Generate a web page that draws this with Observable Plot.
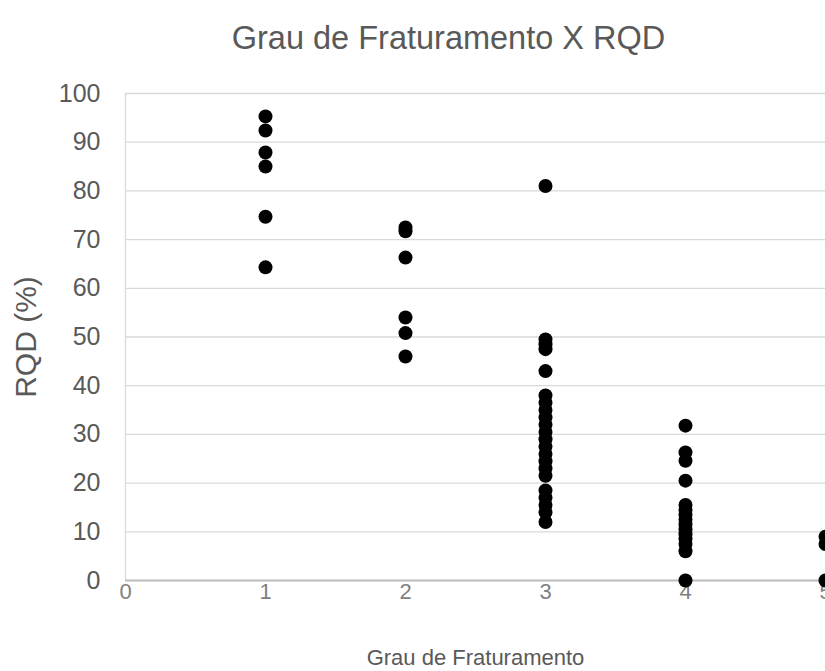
<!DOCTYPE html>
<html><head><meta charset="utf-8">
<script src="https://cdn.jsdelivr.net/npm/d3@7"></script>
<script src="https://cdn.jsdelivr.net/npm/@observablehq/plot@0.6"></script>
<style>html,body{margin:0;padding:0;background:#fff;overflow:hidden}#chart{width:825px;height:671px}</style>
</head><body><div id="chart"></div>
<script>
const title = "Grau de Fraturamento X RQD";
const xLabel = "Grau de Fraturamento";
const yLabel = "RQD (%)";
const xTicks = [0, 1, 2, 3, 4, 5];
const yTicks = [0, 10, 20, 30, 40, 50, 60, 70, 80, 90, 100];
const grau = [1, 2, 3, 4, 5];
const rqdGrau1 = [95.3, 92.4, 87.9, 85, 74.7, 64.3];
const rqdGrau2 = [72.5, 71.7, 66.3, 54, 50.8, 46];
const rqdGrau3 = [81, 49.5, 48.5, 47.5, 43, 38, 36.5, 35, 33.5, 32, 30.5, 29, 27.5, 26, 24.5, 23, 21.5, 18.5, 17, 15.5, 14, 12];
const rqdGrau4 = [31.8, 26.3, 24.6, 20.5, 15.5, 14.5, 13.5, 12.5, 11.5, 10.5, 9.5, 8.5, 7.5, 6, 0];
const rqdGrau5 = [9, 7.5, 0];
const rqdSeries = [rqdGrau1, rqdGrau2, rqdGrau3, rqdGrau4, rqdGrau5];
const data = grau.flatMap((g, i) => rqdSeries[i].map(v => ({grau: g, rqd: v})));

const chart = Plot.plot({
  width: 825, height: 671,
  marginTop: 93, marginBottom: 91, marginLeft: 125, marginRight: 0,
  style: {fontFamily: "'Liberation Sans', Arial, sans-serif", color: "#595959", background: "#fff"},
  x: {domain: [0, 5]},
  y: {domain: [0, 100]},
  marks: [
    Plot.gridY(yTicks, {stroke: "#d9d9d9", strokeOpacity: 1, strokeWidth: 1.3}),
    Plot.ruleX([0], {stroke: "#d9d9d9", strokeWidth: 1.3}),
    Plot.ruleY([0], {stroke: "#bfbfbf", strokeWidth: 1.8}),
    Plot.axisX(xTicks, {tickSize: 0, tickPadding: 3, fontSize: 22, fill: "#7f7f7f", tickFormat: "d", label: null}),
    Plot.axisY(yTicks, {tickSize: 0, tickPadding: 25, fontSize: 25, tickFormat: "d", label: null}),
    Plot.dot(data, {x: "grau", y: "rqd", r: 7, fill: "#000"}),
    Plot.text([xLabel], {frameAnchor: "bottom", dy: 77, fontSize: 22, lineAnchor: "middle", textAnchor: "middle"}),
    Plot.text([yLabel], {frameAnchor: "left", dx: -99, rotate: -90, fontSize: 30, lineAnchor: "middle", textAnchor: "middle"}),
    Plot.text([title], {frameAnchor: "top", dx: -27, dy: -55, fontSize: 32.5, lineAnchor: "middle", textAnchor: "middle"})
  ]
});
document.getElementById("chart").appendChild(chart);
</script>
</body></html>
